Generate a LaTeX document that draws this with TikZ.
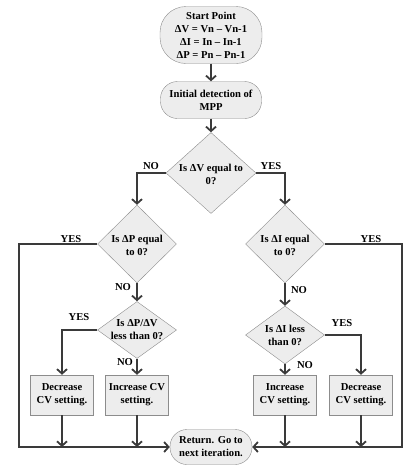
\documentclass[tikz,border=0pt]{standalone}
\usepackage{fontspec}
\setmainfont{Liberation Serif}
\usetikzlibrary{arrows.meta,shapes.geometric}
\definecolor{linec}{HTML}{3A3A3A}
\definecolor{bordc}{HTML}{8C8C8C}
\definecolor{fillc}{HTML}{EDEDED}
\begin{document}
\begin{tikzpicture}[x=1pt,y=-1pt,
  every node/.style={font=\bfseries\fontsize{10.6}{13}\selectfont},
  term/.style={draw=bordc,fill=fillc,rounded corners=17pt,align=center,inner sep=0pt},
  procbox/.style={draw=bordc,fill=fillc,align=center,inner sep=0pt,minimum width=63pt,minimum height=40pt},
  decis/.style={draw=bordc,fill=fillc,diamond,inner sep=0pt,aspect=1},
  txt/.style={align=center,inner sep=0pt},
  lbl/.style={inner sep=0pt},
  conn/.style={draw=linec,line width=1.8pt,-{Straight Barb[length=4.5pt,width=10pt,line width=1.8pt]}},
  plain/.style={draw=linec,line width=1.8pt}]
\useasboundingbox (0,0) rectangle (415,472);
% nodes
\node[term,minimum width=102pt,minimum height=57pt,rounded corners=26pt] (start) at (211,35) {Start Point\\ΔV = Vn – Vn-1\\ΔI = In – In-1\\ΔP = Pn – Pn-1};
\node[term,minimum width=101pt,minimum height=37pt] (init) at (211,100) {Initial detection of\\MPP};
\node[decis,minimum width=90pt,minimum height=81pt] (d1) at (211,173) {};
\node[txt] at (211,174) {Is ΔV equal to\\0?};
\node[decis,minimum width=79pt,minimum height=78pt] (d2) at (137,244) {};
\node[txt] at (137,245) {Is ΔP equal\\to 0?};
\node[decis,minimum width=79pt,minimum height=78pt] (d3) at (285,244) {};
\node[txt] at (285,245) {Is ΔI equal\\to 0?};
\node[decis,minimum width=79pt,minimum height=57pt] (d4) at (137,330) {};
\node[txt] at (137,330) {Is ΔP/ΔV\\less than 0?};
\node[decis,minimum width=79pt,minimum height=58pt] (d5) at (285,335) {};
\node[txt] at (285,335) {Is ΔI less\\than 0?};
\node[procbox] (b1) at (62,395) {Decrease\\CV setting.};
\node[procbox] (b2) at (137,395) {Increase CV\\setting.};
\node[procbox] (b3) at (285,395) {Increase\\CV setting.};
\node[procbox] (b4) at (361,395) {Decrease\\CV setting.};
\node[term,minimum width=82pt,minimum height=35pt] (ret) at (211,447) {Return. Go to\\next iteration.};
\coordinate (lb) at (19,447);
\coordinate (rb) at (402,447);
% connectors
\draw[conn] (start) -- (init);
\draw[conn] (init) -- (d1);
\draw[conn] (d1.west) -| (d2.north);
\draw[conn] (d1.east) -| (d3.north);
\draw[conn] (d2.west) -| (lb) -- (ret.west);
\draw[conn] (d3.east) -| (rb) -- (ret.east);
\draw[conn] (d2.south) -- (d4.north);
\draw[conn] (d3.south) -- (d5.north);
\draw[conn] (d4.west) -| (b1.north);
\draw[conn] (d4.south) -- (b2.north);
\draw[conn] (d5.south) -- (b3.north);
\draw[conn] (d5.east) -| (b4.north);
\draw[conn] (b1.south) -- (b1.south |- ret.west);
\draw[conn] (b2.south) -- (b2.south |- ret.west);
\draw[conn] (b3.south) -- (b3.south |- ret.east);
\draw[conn] (b4.south) -- (b4.south |- ret.east);
% labels
\node[lbl] at (151,166) {NO};
\node[lbl] at (271,166) {YES};
\node[lbl] at (71,239) {YES};
\node[lbl] at (371,239) {YES};
\node[lbl] at (123,287) {NO};
\node[lbl] at (299,290) {NO};
\node[lbl] at (79,317) {YES};
\node[lbl] at (125,362) {NO};
\node[lbl] at (342,323) {YES};
\node[lbl] at (305,365) {NO};
\end{tikzpicture}
\end{document}
